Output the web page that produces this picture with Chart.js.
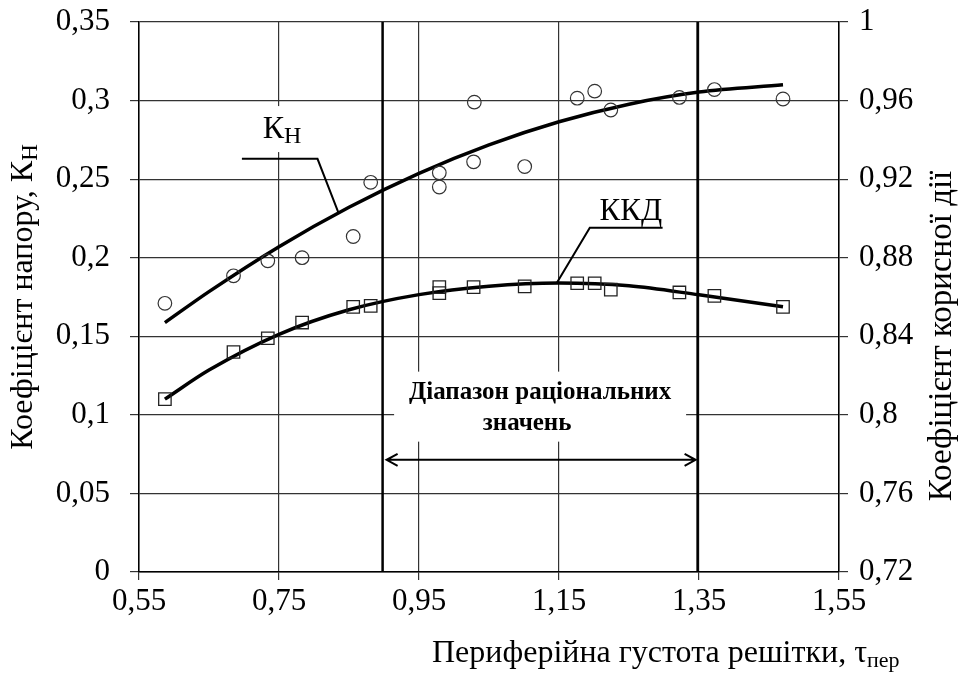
<!DOCTYPE html>
<html>
<head>
<meta charset="utf-8">
<script src="https://cdn.jsdelivr.net/npm/chart.js@4.4.0/dist/chart.umd.min.js"></script>
<style>
  html, body { margin: 0; padding: 0; background: #fff; }
  canvas { display: block; }
</style>
</head>
<body>
<canvas id="chart" width="962" height="675"></canvas>
<script>
// measured points, coefficient of head (left axis)
const khX = [0.587, 0.685, 0.734, 0.783, 0.856, 0.881, 0.979, 0.979, 1.028, 1.029, 1.101, 1.176, 1.201, 1.224, 1.322, 1.372, 1.47];
const khY = [0.171, 0.1885, 0.198, 0.2, 0.2135, 0.248, 0.254, 0.245, 0.261, 0.299, 0.258, 0.3015, 0.306, 0.294, 0.302, 0.307, 0.301];

// measured points, efficiency (right axis)
const kkdX = [0.587, 0.685, 0.734, 0.783, 0.856, 0.881, 0.979, 0.979, 1.028, 1.101, 1.176, 1.201, 1.224, 1.322, 1.372, 1.47];
const kkdY = [0.808, 0.832, 0.839, 0.847, 0.855, 0.8555, 0.865, 0.862, 0.865, 0.8654, 0.867, 0.867, 0.8637, 0.8623, 0.8606, 0.855];

// trend curves
const fitX = [0.587, 0.65, 0.75, 0.85, 0.95, 1.05, 1.15, 1.25, 1.35, 1.47];
const khFit = [0.1587, 0.1784, 0.207, 0.2321, 0.2537, 0.2718, 0.2865, 0.2977, 0.3054, 0.31];
const kkdFit = [0.808, 0.8228, 0.841, 0.8535, 0.8612, 0.8655, 0.8671, 0.8657, 0.8611, 0.855];

// rational range bounds and arrow level (left axis units)
const rangeBounds = [0.898, 1.348];
const arrowLevel = 0.0714;

const xTicks = [0.55, 0.75, 0.95, 1.15, 1.35, 1.55];
const xTickLabels = ["0,55", "0,75", "0,95", "1,15", "1,35", "1,55"];
const yTicks = [0, 0.05, 0.1, 0.15, 0.2, 0.25, 0.3, 0.35];
const yTickLabels = ["0", "0,05", "0,1", "0,15", "0,2", "0,25", "0,3", "0,35"];
const y1Ticks = [0.72, 0.76, 0.8, 0.84, 0.88, 0.92, 0.96, 1];
const y1TickLabels = ["0,72", "0,76", "0,8", "0,84", "0,88", "0,92", "0,96", "1"];

const SERIF = "'Liberation Serif', 'Times New Roman', serif";
const pts = (xs, ys) => xs.map((x, i) => ({ x: x, y: ys[i] }));

function textSub(ctx, main, sub, x, y, size, subSize, align) {
  ctx.font = size + "px " + SERIF;
  const w1 = ctx.measureText(main).width;
  ctx.font = subSize + "px " + SERIF;
  const w2 = ctx.measureText(sub).width;
  let start = x;
  if (align === "center") start = x - (w1 + w2) / 2;
  if (align === "right") start = x - (w1 + w2);
  ctx.textAlign = "left";
  ctx.font = size + "px " + SERIF;
  ctx.fillText(main, start, y);
  ctx.font = subSize + "px " + SERIF;
  ctx.fillText(sub, start + w1, y + size * 0.17);
}

const overlay = {
  id: "overlay",
  beforeDatasetsDraw(chart) {
    const { ctx } = chart;
    const xs = chart.scales.x, ys = chart.scales.y;
    ctx.save();
    ctx.fillStyle = "#fff";
    // white box under the range caption
    const cx = xs.getPixelForValue((rangeBounds[0] + rangeBounds[1]) / 2);
    ctx.fillRect(cx - 146, ys.getPixelForValue(0.1275), 292, 70);
    // white box under the K_H label
    ctx.fillRect(xs.getPixelForValue(0.715), ys.getPixelForValue(0.2965), 58, 46);
    ctx.restore();
  },
  afterDraw(chart) {
    const { ctx } = chart;
    const xs = chart.scales.x, ys = chart.scales.y, y1 = chart.scales.y1;
    ctx.save();
    ctx.fillStyle = "#000";
    ctx.strokeStyle = "#000";
    ctx.textBaseline = "alphabetic";

    // K_H label with leader
    textSub(ctx, "К", "Н", xs.getPixelForValue(0.7267), ys.getPixelForValue(0.2763), 32, 24, "left");
    ctx.lineWidth = 2;
    ctx.beginPath();
    ctx.moveTo(xs.getPixelForValue(0.697), ys.getPixelForValue(0.2629));
    ctx.lineTo(xs.getPixelForValue(0.805), ys.getPixelForValue(0.2629));
    ctx.lineTo(xs.getPixelForValue(0.835), ys.getPixelForValue(0.2285));
    ctx.stroke();

    // ККД label with leader
    ctx.font = "31px " + SERIF;
    ctx.textAlign = "left";
    ctx.fillText("ККД", xs.getPixelForValue(1.208), ys.getPixelForValue(0.2242));
    ctx.beginPath();
    ctx.moveTo(xs.getPixelForValue(1.298), y1.getPixelForValue(0.8952));
    ctx.lineTo(xs.getPixelForValue(1.194), y1.getPixelForValue(0.8952));
    ctx.lineTo(xs.getPixelForValue(1.147), y1.getPixelForValue(0.8672));
    ctx.stroke();

    // range caption
    const cx = xs.getPixelForValue((rangeBounds[0] + rangeBounds[1]) / 2);
    ctx.font = "bold 25px " + SERIF;
    ctx.textAlign = "center";
    ctx.fillText("Діапазон раціональних", cx, ys.getPixelForValue(0.1102));
    ctx.fillText("значень", cx - 13, ys.getPixelForValue(0.0905));

    // double arrow
    const ay = ys.getPixelForValue(arrowLevel);
    const ax0 = xs.getPixelForValue(rangeBounds[0]) + 4;
    const ax1 = xs.getPixelForValue(rangeBounds[1]) - 2;
    ctx.lineWidth = 2;
    ctx.beginPath();
    ctx.moveTo(ax0, ay); ctx.lineTo(ax1, ay);
    ctx.moveTo(ax0 + 11, ay - 6); ctx.lineTo(ax0, ay); ctx.lineTo(ax0 + 11, ay + 6);
    ctx.moveTo(ax1 - 11, ay - 6); ctx.lineTo(ax1, ay); ctx.lineTo(ax1 - 11, ay + 6);
    ctx.stroke();

    // axis titles
    const midY = (chart.chartArea.top + chart.chartArea.bottom) / 2;
    ctx.save();
    ctx.translate(32, midY);
    ctx.rotate(-Math.PI / 2);
    textSub(ctx, "Коефіцієнт напору, К", "Н", 0, 0, 32, 23, "center");
    ctx.restore();

    ctx.save();
    ctx.translate(951, 336);
    ctx.rotate(-Math.PI / 2);
    ctx.font = "33px " + SERIF;
    ctx.textAlign = "center";
    ctx.fillText("Коефіцієнт корисної дії", 0, 0);
    ctx.restore();

    textSub(ctx, "Периферійна густота решітки, τ", "пер", 432, 662, 32, 22, "left");
    ctx.restore();
  }
};

const tickFont = { family: SERIF, size: 31 };
const noPadY = s => { s.paddingTop = 0; s.paddingBottom = 0; };

new Chart(document.getElementById("chart"), {
  type: "scatter",
  data: {
    datasets: [
      {
        label: "Кн",
        data: pts(khX, khY),
        yAxisID: "y",
        pointStyle: "circle",
        pointRadius: 6.8,
        borderColor: "#333",
        borderWidth: 1.2,
        backgroundColor: "rgba(0,0,0,0)"
      },
      {
        label: "ККД",
        data: pts(kkdX, kkdY),
        yAxisID: "y1",
        pointStyle: "rect",
        pointRadius: 8.8,
        borderColor: "#222",
        borderWidth: 1.3,
        backgroundColor: "rgba(0,0,0,0)"
      },
      {
        label: "Кн тренд",
        data: pts(fitX, khFit),
        yAxisID: "y",
        showLine: true,
        pointRadius: 0,
        borderColor: "#000",
        borderWidth: 3.5,
        cubicInterpolationMode: "monotone"
      },
      {
        label: "ККД тренд",
        data: pts(fitX, kkdFit),
        yAxisID: "y1",
        showLine: true,
        pointRadius: 0,
        borderColor: "#000",
        borderWidth: 3.5,
        cubicInterpolationMode: "monotone"
      },
      ...rangeBounds.map(b => ({
        label: "межа",
        data: [{ x: b, y: yTicks[0] }, { x: b, y: yTicks[yTicks.length - 1] }],
        yAxisID: "y",
        showLine: true,
        pointRadius: 0,
        borderColor: "#000",
        borderWidth: 2.5
      }))
    ]
  },
  options: {
    responsive: false,
    animation: false,
    devicePixelRatio: 1,
    layout: { padding: { top: 22, left: 0, right: 0, bottom: 0 } },
    plugins: {
      legend: { display: false },
      tooltip: { enabled: false }
    },
    scales: {
      x: {
        type: "linear",
        min: 0.55,
        max: 1.55,
        afterBuildTicks: s => { s.ticks = xTicks.map(v => ({ value: v })); },
        afterFit: s => { s.height = 103; s.paddingLeft = 0; s.paddingRight = 0; },
        ticks: {
          font: tickFont,
          color: "#000",
          padding: 3,
          maxRotation: 0,
          callback: (v, i) => xTickLabels[i]
        },
        grid: { color: "#333", lineWidth: 1.2, tickLength: 8 },
        border: { color: "#000", width: 1.5 }
      },
      y: {
        type: "linear",
        position: "left",
        min: 0,
        max: 0.35,
        afterBuildTicks: s => { s.ticks = yTicks.map(v => ({ value: v })); },
        afterFit: s => { s.width = 139; noPadY(s); },
        ticks: {
          font: tickFont,
          color: "#000",
          padding: 20,
          callback: (v, i) => yTickLabels[i]
        },
        grid: { color: "#333", lineWidth: 1.2, tickLength: 9 },
        border: { color: "#000", width: 1.5 }
      },
      y1: {
        type: "linear",
        position: "right",
        min: 0.72,
        max: 1,
        afterBuildTicks: s => { s.ticks = y1Ticks.map(v => ({ value: v })); },
        afterFit: s => { s.width = 123; noPadY(s); },
        ticks: {
          font: tickFont,
          color: "#000",
          padding: 11,
          callback: (v, i) => y1TickLabels[i]
        },
        grid: { drawOnChartArea: false, color: "#333", lineWidth: 1.2, tickLength: 9 },
        border: { color: "#000", width: 1.5 }
      }
    }
  },
  plugins: [overlay]
});
</script>
</body>
</html>
